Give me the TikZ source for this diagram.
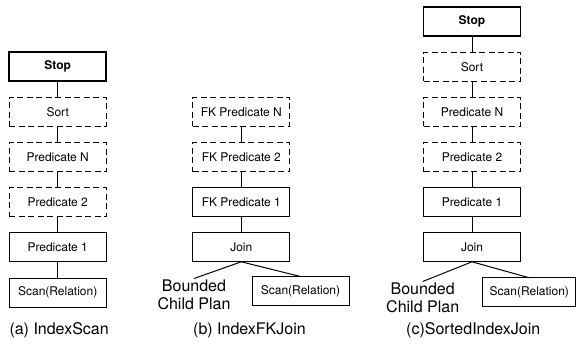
\documentclass[tikz,border=0pt]{standalone}
\usepackage{fontspec}
\setmainfont{TeX Gyre Heros}
\begin{document}
\begin{tikzpicture}[x=1pt,y=-1pt,
  box/.style={draw,line width=0.9pt,minimum width=97pt,minimum height=29pt,inner sep=0pt,outer sep=0pt,font=\fontsize{12}{14}\selectfont},
  dbox/.style={box,dash pattern=on 6pt off 3.5pt},
  stopbox/.style={box,line width=1.5pt,font=\fontsize{12}{14}\selectfont\bfseries},
  link/.style={line width=1pt},
  captext/.style={font=\fontsize{16}{18}\selectfont,anchor=base west,inner sep=0pt},
  child/.style={font=\fontsize{16}{18}\selectfont,align=center,inner sep=1pt,anchor=north}]
\useasboundingbox (0,0) rectangle (576,343);
% (a)
\node[stopbox] (aStop) at (57.7,66.7) {Stop};
\node[dbox] (aSort) at (57.7,111.8) {Sort};
\node[dbox] (aPN) at (57.7,157.0) {Predicate N};
\node[dbox] (aP2) at (57.7,202.2) {Predicate 2};
\node[box] (aP1) at (57.7,247.3) {Predicate 1};
\node[box] (aScan) at (57.7,292.7) {Scan(Relation)};
\draw[link] (aStop) -- (aSort);
\draw[link] (aSort) -- (aPN);
\draw[link] (aPN) -- (aP2);
\draw[link] (aP2) -- (aP1);
\draw[link] (aP1) -- (aScan);
\node[captext] (acap) at (9.3,334.5) {(a) IndexScan};
% (b)
\node[dbox] (bPN) at (241.3,111.8) {FK Predicate N};
\node[dbox] (bP2) at (241.3,157.0) {FK Predicate 2};
\node[box] (bP1) at (241.3,202.2) {FK Predicate 1};
\node[box] (bJoin) at (241.3,247.3) {Join};
\node[box] (bScan) at (300.5,291) {Scan(Relation)};
\node[child] (bChild) at (194,278.5) {Bounded\\Child Plan};
\draw[link] (bPN) -- (bP2);
\draw[link] (bP2) -- (bP1);
\draw[link] (bP1) -- (bJoin);
\draw[link] (bJoin.south) -- (bChild.north);
\draw[link] (bJoin.south) -- (bScan.north);
\node[captext] (bcap) at (193,334.5) {(b) IndexFKJoin};
% (c)
\node[stopbox] (cStop) at (472,21.5) {Stop};
\node[dbox] (cSort) at (472,66.7) {Sort};
\node[dbox] (cPN) at (472,111.8) {Predicate N};
\node[dbox] (cP2) at (472,157.0) {Predicate 2};
\node[box] (cP1) at (472,202.2) {Predicate 1};
\node[box] (cJoin) at (472,247.3) {Join};
\node[box,minimum width=93pt] (cScan) at (529.3,292.3) {Scan(Relation)};
\node[child] (cChild) at (422.7,281.5) {Bounded\\Child Plan};
\draw[link] (cStop) -- (cSort);
\draw[link] (cSort) -- (cPN);
\draw[link] (cPN) -- (cP2);
\draw[link] (cP2) -- (cP1);
\draw[link] (cP1) -- (cJoin);
\draw[link] (cJoin.south) -- (cChild.north);
\draw[link] (cJoin.south) -- (cScan.north);
\node[captext] (ccap) at (406,334.5) {(c)SortedIndexJoin};
\end{tikzpicture}
\end{document}
